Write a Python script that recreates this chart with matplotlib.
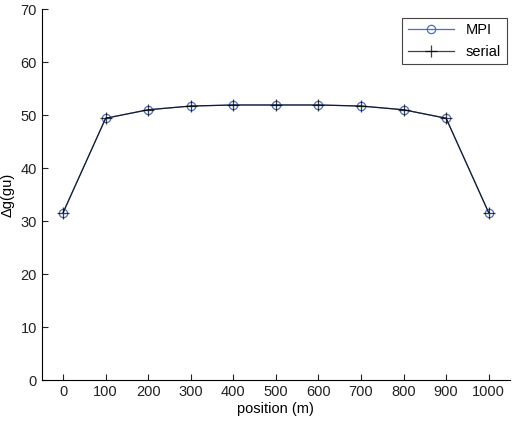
import matplotlib
matplotlib.use("Agg")
import matplotlib.pyplot as plt

position = [0, 100, 200, 300, 400, 500, 600, 700, 800, 900, 1000]
mpi = [31.6, 49.4, 51.0, 51.7, 51.9, 51.9, 51.9, 51.7, 51.0, 49.4, 31.6]
serial = [31.6, 49.4, 51.0, 51.7, 51.9, 51.9, 51.9, 51.7, 51.0, 49.4, 31.6]


def main():
    plt.rcParams['font.family'] = ['Liberation Sans', 'DejaVu Sans']
    fig = plt.figure(figsize=(5.23, 4.30), dpi=100)
    ax = fig.add_axes([0.080, 0.116, 0.895, 0.863])

    ax.plot(position, mpi, color='#4a6fc0', lw=0.9, marker='o', ms=6,
            mfc='none', mec='#4a6fc0', mew=0.9, label='MPI')
    ax.plot(position, serial, color='black', lw=0.9, marker='+', ms=8,
            mew=0.9, label='serial', alpha=0.75)

    ax.set_xlim(-50, 1050)
    ax.set_ylim(0, 70)
    ax.set_xticks(range(0, 1001, 100))
    ax.set_yticks(range(0, 71, 10))
    ax.tick_params(direction='in', length=4, labelsize=10.5, colors='#222222')
    ax.spines['top'].set_visible(False)
    ax.spines['right'].set_visible(False)
    ax.set_xlabel('position (m)', fontsize=10.5, labelpad=2)
    ax.set_ylabel('Δg(gu)', fontsize=10.5, labelpad=4)

    leg = ax.legend(loc='upper right', fontsize=10.5, fancybox=False,
                    edgecolor='#444444', framealpha=1, handlelength=3.2,
                    borderaxespad=0.2, bbox_to_anchor=(1.0, 0.985))
    leg.get_frame().set_linewidth(0.8)

    fig.savefig('out.png', dpi=100)


if __name__ == "__main__":
    main()
